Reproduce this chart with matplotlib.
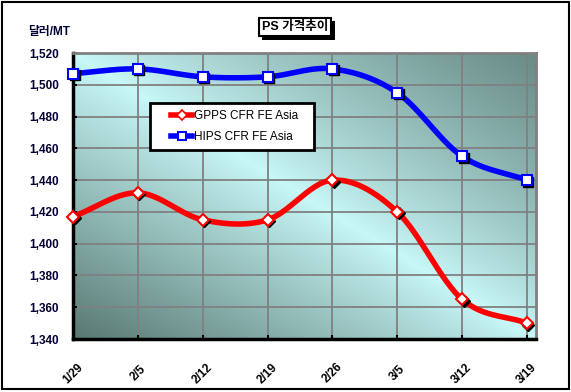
import numpy as np
import matplotlib
matplotlib.use("Agg")
import matplotlib.pyplot as plt
import matplotlib.patches as mpatches
import matplotlib.transforms as mtransforms
import matplotlib.patheffects as pe
from matplotlib.lines import Line2D

plt.rcParams['font.family'] = ['Liberation Sans', 'Noto Sans CJK KR', 'DejaVu Sans']

dates = ["1/29", "2/5", "2/12", "2/19", "2/26", "3/5", "3/12", "3/19"]
gpps = [1417, 1432, 1415, 1415, 1440, 1420, 1365, 1350]
hips = [1507, 1510, 1505, 1505, 1510, 1495, 1455, 1440]
yticks = [1340, 1360, 1380, 1400, 1420, 1440, 1460, 1480, 1500, 1520]
title = "PS 가격추이"
ylabel = "달러/MT"
names = ["GPPS CFR FE Asia", "HIPS CFR FE Asia"]


def smooth(xs, ys, n=30):
    xs = np.asarray(xs, float); ys = np.asarray(ys, float)
    P = np.column_stack([xs, ys])
    P = np.vstack([2 * P[0] - P[1], P, 2 * P[-1] - P[-2]])
    out = []
    t = np.linspace(0, 1, n)[:, None]
    for i in range(1, len(P) - 2):
        p0, p1, p2, p3 = P[i - 1], P[i], P[i + 1], P[i + 2]
        c1 = p1 + (p2 - p0) / 6.0
        c2 = p2 - (p3 - p1) / 6.0
        seg = ((1 - t) ** 3) * p1 + 3 * ((1 - t) ** 2) * t * c1 + 3 * (1 - t) * t ** 2 * c2 + t ** 3 * p2
        out.append(seg if i == 1 else seg[1:])
    out = np.vstack(out)
    return out[:, 0], out[:, 1]


fig = plt.figure(figsize=(5.71, 3.92), dpi=100)
fig.patch.set_facecolor('white')
ax = fig.add_axes([73 / 571, 1 - 339 / 392, 463 / 571, 286 / 392])

# gradient background
N = 200
u = np.linspace(0, 1, N)[None, :]
v = np.linspace(0, 1, N)[:, None]
tt = np.abs(u - v) ** 0.9
tt = tt * (0.85 + 0.15 * v)
light = np.array([0xc8, 0xf8, 0xf8]) / 255
dark = np.array([0x58, 0x78, 0x72]) / 255
img = light[None, None, :] * (1 - tt[..., None]) + dark[None, None, :] * tt[..., None]
ax.imshow(img, extent=[0, 1, 0, 1], transform=ax.transAxes, aspect='auto', zorder=0, interpolation='bilinear')

x = np.arange(len(dates))
ax.set_xlim(-0.0, 7.14)
ax.set_ylim(1340, 1520)
ax.set_yticks(yticks)
ax.set_yticklabels([f"{t:,}" for t in yticks], color='#000033', fontsize=8.5, fontweight='bold')
ax.set_xticks(x)
ax.set_xticklabels([])
ax.grid(True, color='#808080', lw=1.3)
ax.set_axisbelow(True)
ax.tick_params(axis='x', direction='in', length=3, width=1.5, color='black')
ax.tick_params(axis='y', direction='in', length=3, width=1.5, color='black', pad=10)
for s in ['left', 'bottom']:
    ax.spines[s].set_linewidth(2.5)
    ax.spines[s].set_color('black')
for s in ['top', 'right']:
    ax.spines[s].set_linewidth(2)
    ax.spines[s].set_color('#808080')

trans = mtransforms.blended_transform_factory(ax.transData, ax.transAxes)
for i, d in enumerate(dates):
    ax.text(i, -0.12, d, rotation=45, ha='center', va='center', fontsize=8.5, transform=trans,
            fontweight='bold')

shadow = mtransforms.offset_copy(ax.transData, fig=fig, x=1.5, y=-1.5, units='dots')
series = [(gpps, 'red', 'D', 6.5), (hips, 'blue', 's', 7.5)]
for vals, col, mk, ms in series:
    sx, sy = smooth(x, vals)
    ax.plot(sx, sy, color=col, lw=4, zorder=3, solid_capstyle='round')
    ax.plot(x, vals, ls='none', marker=mk, ms=ms, mfc='black', mec='black', zorder=4, transform=shadow, clip_on=False)
    ax.plot(x, vals, ls='none', marker=mk, ms=ms, mfc='white', mec=col, mew=1.5, zorder=5, clip_on=False)

# legend frame
ax.add_patch(mpatches.Rectangle((77 / 463, 189 / 286), 164 / 463, 47 / 286, transform=ax.transAxes,
                                fc='white', ec='black', lw=2, zorder=9))
handles = [Line2D([0], [0], color='red', lw=4, marker='D', ms=5, mfc='white', mec='red', mew=1.2),
           Line2D([0], [0], color='blue', lw=4, marker='s', ms=6, mfc='white', mec='blue', mew=1.5)]
leg = ax.legend(handles, names, loc='center left', bbox_to_anchor=(98 / 463, 212.5 / 286), fontsize=8.5,
                frameon=False, handlelength=1.8, borderpad=0, labelspacing=0.75, handletextpad=0.15,
                borderaxespad=0)
leg.set_zorder(10)

fig.text(28 / 571, 1 - 32 / 392, ylabel, fontsize=8.5, ha='left', va='center', fontweight='bold', color='#000033')
t = fig.text(295 / 571, 1 - 27 / 392, title, fontsize=9, ha='center', va='center', fontweight='bold',
             bbox=dict(boxstyle='square,pad=0.25', fc='white', ec='black', lw=1.5))
t.get_bbox_patch().set_path_effects([pe.SimplePatchShadow(offset=(2.5, -2.5), shadow_rgbFace='black', alpha=1), pe.Normal()])

fig.patches.append(mpatches.Rectangle((2 / 571, 3 / 392), 567 / 571, 387 / 392, transform=fig.transFigure,
                                      fill=False, ec='black', lw=1.5))

fig.savefig('out.png', dpi=100)
